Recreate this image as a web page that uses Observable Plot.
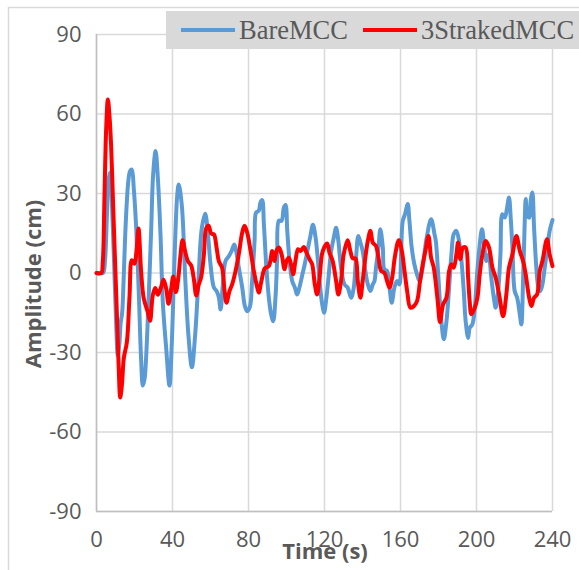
<!DOCTYPE html>
<html>
<head>
<meta charset="utf-8">
<script src="https://cdn.jsdelivr.net/npm/d3@7"></script>
<script src="https://cdn.jsdelivr.net/npm/@observablehq/plot@0.6"></script>
<style>
  html, body { margin: 0; padding: 0; background: #fff; }
  #chart { width: 579px; height: 570px; overflow: hidden; }
</style>
</head>
<body>
<div id="chart"></div>
<script>
const seriesNames = ["BareMCC", "3StrakedMCC"];
const seriesColors = ["#5B9BD5", "#FF0000"];
const xTicks = [0, 40, 80, 120, 160, 200, 240];
const yTicks = [-90, -60, -30, 0, 30, 60, 90];
const xLabel = "Time (s)";
const yLabel = "Amplitude (cm)";

const bareTime = [0,2,3.5,4.5,5.5,6.5,7.3,8.2,9.2,10.3,11.2,12,12.7,13.5,14.3,15.1,15.9,16.8,17.7,18.6,19.6,20.9,22.3,23.5,24.4,25.3,26.1,27.5,28.8,29.8,31.1,32.3,33.7,34.9,36.7,38.4,39.6,41,42.5,43.3,44.9,46.7,48.4,50.2,51.9,53.7,55.4,57.2,58.8,60,61.8,63.2,64.4,65.3,66.5,67.9,69.7,71.1,72.5,73.5,74.9,76.7,78.1,79.3,80.7,81.9,83.2,84,85.4,86.3,87.2,88.1,89.3,90.7,91.9,93,94.2,95.1,96,97.4,98.6,99.5,100.4,101.6,103,104.4,105.6,106.8,108.2,109.6,111,112.6,113.9,115.3,116.7,117.9,119.1,119.8,120.8,122.1,123.5,124.9,126.1,127.3,128.7,130.5,132.2,134,135.4,136.6,137.8,138.9,140.1,141.5,142.8,144.2,145.4,146.3,147.1,148.4,149.4,150.7,151.5,152.9,154.2,155.4,156.8,158.2,159.4,160.3,161.2,162.4,163.8,164.7,165.9,167.3,168.7,170,171.7,173.5,176.1,177.9,178.6,179.8,181.5,182.8,184.2,185.6,186.8,188,189.4,190.8,192.1,193.3,194.3,195.6,196.4,197.8,199.1,200.3,201.7,202.9,204,205.2,206.4,207.8,209.1,210.1,211.4,212.6,213.6,214.9,216.1,217.1,218,218.9,220.1,221.4,222.8,223.6,224.5,225.4,225.9,226.6,227.7,228.5,229.4,230.3,231.5,232.6,233.6,234.7,235.9,237.3,238.5,240];
const bareAmp = [0,0,0,5,22,36,38,25,5,-18,-31,-27,-19,-15,-2,14,26,35,38.5,39,32,16.8,-8.4,-33,-42.5,-40,-32,-8.4,16.8,37,46,35.7,14.2,-11,-28.6,-42.5,-27,4,29.4,33.4,25.6,-2,-23.6,-35.6,-23.6,-2,16.8,22.4,13.4,3.3,-5.5,-6.8,-9.3,-13.8,-4.3,4.5,6.4,8.3,10.8,8.3,2,-5.5,-12.5,-14.4,-12.9,-3,12.1,22.8,23.5,26.6,27.5,18.4,3.3,-9.3,-15.6,-18.2,-9.3,5.8,19.7,19.7,24.7,25.7,15.9,4.5,-3,-5.5,-8.1,-5.5,-1.1,3.3,8.3,14,18.2,13.4,3.3,-6.8,-13.1,-15,-10.6,-1.8,8.3,13.4,17.1,12.1,2,-4.3,-5.5,-9.3,-5.5,5.8,14,11.5,8.3,0.8,-4.3,-6.8,-4.3,-3,2,9.6,16.5,9.6,1.4,0.8,-5.5,-11.2,-5.5,-3,-4.3,7,19.7,22.2,26,19.7,9.6,3.3,-0.5,-3,2,12.1,20.3,14.6,12,0,-18.2,-25,-18.2,-5.5,7,14.6,15.9,12.1,4.5,-6.8,-18.2,-24.5,-20.7,-19.4,-13.1,-0.5,10.8,16.5,10.8,4.5,7,-1.8,-9.3,-13.1,-6.8,7,22.2,20.9,24.7,28.5,20.9,9.6,-6.8,-9.3,-15.6,-19.4,-3,19.7,27.9,22.2,20.9,27.2,30.4,17.1,2,-5.5,-6.8,-4.3,2,9.6,15.9,20];

const strakedTime = [0,2.5,3.3,4.2,5.1,6,6.8,7.7,8.6,9.5,10.4,11.6,12.5,13.4,14.4,16,17.4,18.6,20,21,22.1,23.5,24.9,27,28.2,29.6,30.9,32.3,34,35.3,36.7,37.9,39.3,40.4,41.8,43.2,44.2,45.3,46.7,48.1,49.8,51.2,52.5,53.7,55.1,56.5,57.7,59,60.4,61.8,63.2,64.4,66.1,67.4,68.4,70,71.4,73.2,74.9,76.7,77.9,79.3,81.1,82.8,84.6,85.4,86.8,88.6,90.7,92.5,93.7,94.7,96,97.4,99,100,101.2,102.6,103.5,104.7,106.1,107.4,109.1,110.5,112.1,113.5,114.9,116.1,117.4,119.1,121.4,122.6,124.3,126.1,127.3,128.7,130.1,132.2,133.6,134.9,136.3,137.5,138.9,140.1,141.5,142.8,144.2,145.4,147.1,148.4,149.8,151.5,152.9,154.2,155.6,157.1,159.1,160.7,162.1,163.5,165.2,167,168.7,170.3,171.7,173.1,174.7,176.1,177.5,179.5,180.8,182.4,184.2,185.6,186.8,188,189.4,190.3,191.5,192.9,194.3,195.6,196.4,197.3,199.1,200.5,201.7,203.1,204.9,206.6,208.4,210.1,211.9,214,215.7,217.1,218.9,221,222.8,224.5,225.9,227.7,228.9,230.3,231.9,233.3,234.7,237.1,238.5,240];
const strakedAmp = [0,0,4,29,54.6,65.5,59.6,48,29,10,-8.5,-33.7,-47,-42,-32,-26,-8.5,4.8,3.5,8,16.8,0.4,-9.7,-14.8,-18,-8.5,-5.7,-8.2,-5.3,-2.5,-6,-11.6,-6,-1.3,-7.2,-0.9,6.7,12.4,8,4.5,2.9,-2.1,-8.5,-4.7,-1.5,6.7,16.8,17.8,14.9,14.6,9.6,4.5,2,-6.8,-11.2,-6.8,-4.3,0.8,7.1,15.3,17.8,15.3,8.3,0.8,-5.5,-7.4,-3,1.8,2.6,8.3,4.5,8.3,9.6,7.1,1.4,4.5,5.8,2.6,-0.5,4.5,9,8.3,9.8,7.7,5.2,3.3,-4.3,-8.1,-1.8,8.3,11.1,7.7,4.5,-3,-8.1,-3,7,12.4,8.3,5.5,5.5,-3,-9.3,-3,5.8,12.1,15.9,11.5,10.2,5.8,0.8,0.1,-3,-5.5,-1.8,6.4,12.4,8.3,0.8,-6.8,-13.1,-12.5,-10.6,-3,3.3,8.3,14,5.8,2,-10,-18.5,-11.9,-9.3,0.8,3.3,2,7,11.5,5.2,9.6,9.6,-1.8,-10.6,-15.6,-13.1,-9.3,-0.5,7,12.1,9.6,2,-1.8,-8.1,-16.3,-8.1,2,7,14,8.3,4.5,-0.5,-9.3,-12.5,-9.3,-8.1,0.8,4.5,12.7,7,2.6];

const bare = bareTime.map((t, i) => ({t, a: bareAmp[i]}));
const straked = strakedTime.map((t, i) => ({t, a: strakedAmp[i]}));

const gridStyle = {stroke: "#d9d9d9", strokeOpacity: 1, strokeWidth: 1.5};
const fmt = d => String(d);

const chart = Plot.plot({
  width: 579,
  height: 570,
  marginLeft: 96,
  marginRight: 27,
  marginTop: 34,
  marginBottom: 59,
  style: {fontFamily: "'Open Sans', sans-serif", fontSize: "22px", color: "#595959", background: "#fff", overflow: "visible"},
  x: {domain: [0, 240]},
  y: {domain: [-90, 90]},
  marks: [
    Plot.gridX(xTicks, gridStyle),
    Plot.gridY(yTicks, gridStyle),
    Plot.ruleX([0], {stroke: "#bfbfbf", strokeWidth: 1.5}),
    Plot.ruleY([-90], {stroke: "#bfbfbf", strokeWidth: 1.5}),
    Plot.line(bare, {x: "t", y: "a", stroke: seriesColors[0], strokeWidth: 4, curve: "catmull-rom"}),
    Plot.line(straked, {x: "t", y: "a", stroke: seriesColors[1], strokeWidth: 4, curve: "catmull-rom"}),
    Plot.axisX(xTicks, {tickSize: 0, tickPadding: 20, label: null, fill: "#595959", tickFormat: fmt}),
    Plot.axisY(yTicks, {tickSize: 0, tickPadding: 15, label: null, fill: "#595959", tickFormat: fmt})
  ]
});

const svg = d3.select(chart);
// outer chart border
svg.insert("rect", ":first-child")
  .attr("x", 8.5).attr("y", 7.5).attr("width", 620).attr("height", 620)
  .attr("fill", "none").attr("stroke", "#d9d9d9").attr("stroke-width", 1.5);

// axis titles
svg.append("text")
  .attr("transform", "translate(41,284) rotate(-90)")
  .attr("text-anchor", "middle")
  .attr("font-family", "'Open Sans', sans-serif")
  .attr("font-weight", "bold")
  .attr("font-size", 22)
  .attr("fill", "#595959")
  .text(yLabel);
svg.append("text")
  .attr("x", 325).attr("y", 559)
  .attr("text-anchor", "middle")
  .attr("font-family", "'Open Sans', sans-serif")
  .attr("font-weight", "bold")
  .attr("font-size", 22)
  .attr("fill", "#595959")
  .text(xLabel);

// legend
const lg = svg.append("g");
lg.append("rect").attr("x", 166).attr("y", 11).attr("width", 430).attr("height", 38).attr("fill", "#d9d9d9");
const legendItems = [
  {name: seriesNames[0], color: seriesColors[0], x0: 181},
  {name: seriesNames[1], color: seriesColors[1], x0: 363}
];
legendItems.forEach(d => {
  lg.append("line").attr("x1", d.x0).attr("x2", d.x0 + 54).attr("y1", 30).attr("y2", 30)
    .attr("stroke", d.color).attr("stroke-width", 4);
  lg.append("text").attr("x", d.x0 + 58).attr("y", 39)
    .attr("text-anchor", "start")
    .attr("font-family", "'Liberation Serif', 'Times New Roman', serif")
    .attr("font-size", 26.5)
    .attr("fill", "#595959")
    .text(d.name);
});

document.getElementById("chart").appendChild(chart);
</script>
</body>
</html>
